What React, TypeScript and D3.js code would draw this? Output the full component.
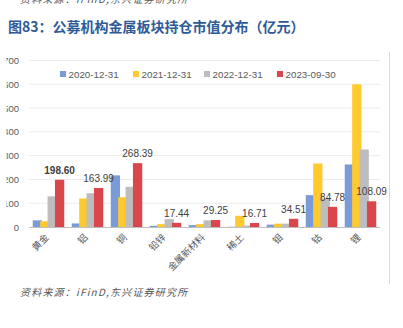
import React from 'react';
import * as d3 from 'd3';

const categories = ['黄金', '铝', '铜', '铅锌', '金属新材料', '稀土', '钼', '钴', '锂'];
const seriesNames = ['2020-12-31', '2021-12-31', '2022-12-31', '2023-09-30'];
const s2020 = [28, 15, 217, 5, 8, 1, 10, 134, 263];
const s2021 = [24, 120, 125, 12, 12, 47, 14, 267, 600];
const s2022 = [129, 142, 169, 33, 28, 6, 14, 120, 326];
const s2023 = [198.6, 163.99, 268.39, 17.44, 29.25, 16.71, 34.51, 84.78, 108.09];
const yTicks = [0, 100, 200, 300, 400, 500, 600, 700];
const colors = ['#7A9BD8', '#FFCA2E', '#BDBDBD', '#D9474C'];

const W = 403;
const H = 328;
const plotL = 29;
const plotR = 380;
const y0 = 227;
const y700 = 60.5;

export default function App() {
  const series = [s2020, s2021, s2022, s2023];
  const x = d3.scaleBand<string>().domain(categories).range([plotL, plotR]).padding(0);
  const y = d3.scaleLinear().domain([0, 700]).range([y0, y700]);
  const barW = 9.3;
  const step = 7.4;
  const groupW = step * 3 + barW;
  const font = "'Liberation Sans', Arial, 'Noto Sans CJK SC', sans-serif";
  const cjk = "'Noto Sans CJK SC', sans-serif";
  const legendX = [60, 133, 204, 277];

  return (
    <svg width={W} height={H} style={{ position: 'absolute', left: 0, top: 0, background: '#fff' }}>
      <defs>
        <clipPath id="ylab">
          <rect x={6.5} y={0} width={40} height={H} />
        </clipPath>
      </defs>
      <rect x={0} y={0} width={W} height={H} fill="#fff" />
      {/* clipped top source text */}
      <text x={20} y={2.5} fontSize={10} fontStyle="italic" fill="#555" fontFamily={cjk} letterSpacing={1.2}>
        资料来源：iFinD,东兴证券研究所
      </text>
      <text x={8} y={32} fontSize={14} fontWeight="bold" fill="#2E5B97" fontFamily={cjk}>
        图83：公募机构金属板块持仓市值分布（亿元）
      </text>
      {/* right frame line */}
      <line x1={389.5} x2={389.5} y1={52} y2={284} stroke="#DADADA" strokeWidth={1} />
      {/* gridlines */}
      {yTicks.filter((t) => t > 0).map((t) => (
        <line key={t} x1={plotL} x2={plotR} y1={y(t)} y2={y(t)} stroke="#ECECEC" strokeWidth={1} />
      ))}
      <g clipPath="url(#ylab)">
        {yTicks.map((t) => (
          <text key={t} x={19} y={y(t) + 3.5} fontSize={9.5} textAnchor="end" fill="#595959" fontFamily={font}>
            {t}
          </text>
        ))}
      </g>
      {/* bars */}
      {series.map((s, si) => (
        <g key={si}>
          {s.map((v, ci) => {
            const cx = (x(categories[ci]) as number) + x.bandwidth() / 2;
            const bx = cx - groupW / 2 + si * step;
            return (
              <rect key={ci} x={bx} y={y(v)} width={barW} height={y0 - y(v)} fill={colors[si]} />
            );
          })}
        </g>
      ))}
      {/* axis line */}
      <line x1={plotL} x2={plotR} y1={y0 + 0.5} y2={y0 + 0.5} stroke="#BFBFBF" strokeWidth={1} />
      {/* data labels for last series */}
      {s2023.map((v, ci) => {
        const cx = (x(categories[ci]) as number) + x.bandwidth() / 2;
        const bx = cx - groupW / 2 + 3 * step + barW / 2;
        return (
          <text key={ci} x={bx} y={y(v) - 6} fontSize={10} textAnchor="middle" fill="#404040"
            fontWeight={ci === 0 ? 'bold' : 'normal'} fontFamily={font}>
            {v.toFixed(2)}
          </text>
        );
      })}
      {/* x labels */}
      {categories.map((c) => {
        const cx = (x(c) as number) + x.bandwidth() / 2;
        return (
          <text key={c} x={cx + 1} y={y0 + 11} fontSize={9.5} textAnchor="end" fill="#595959" fontFamily={cjk}
            transform={`rotate(-45 ${cx + 1} ${y0 + 11})`}>
            {c}
          </text>
        );
      })}
      {/* legend */}
      {seriesNames.map((n, i) => (
        <g key={n}>
          <rect x={legendX[i]} y={71} width={6} height={6} fill={colors[i]} />
          <text x={legendX[i] + 8.5} y={77.5} fontSize={9.8} fill="#595959" fontFamily={font}>
            {n}
          </text>
        </g>
      ))}
      <text x={20} y={296} fontSize={10} fontStyle="italic" fill="#555" fontFamily={cjk} letterSpacing={1.2}>
        资料来源：iFinD,东兴证券研究所
      </text>
    </svg>
  );
}
